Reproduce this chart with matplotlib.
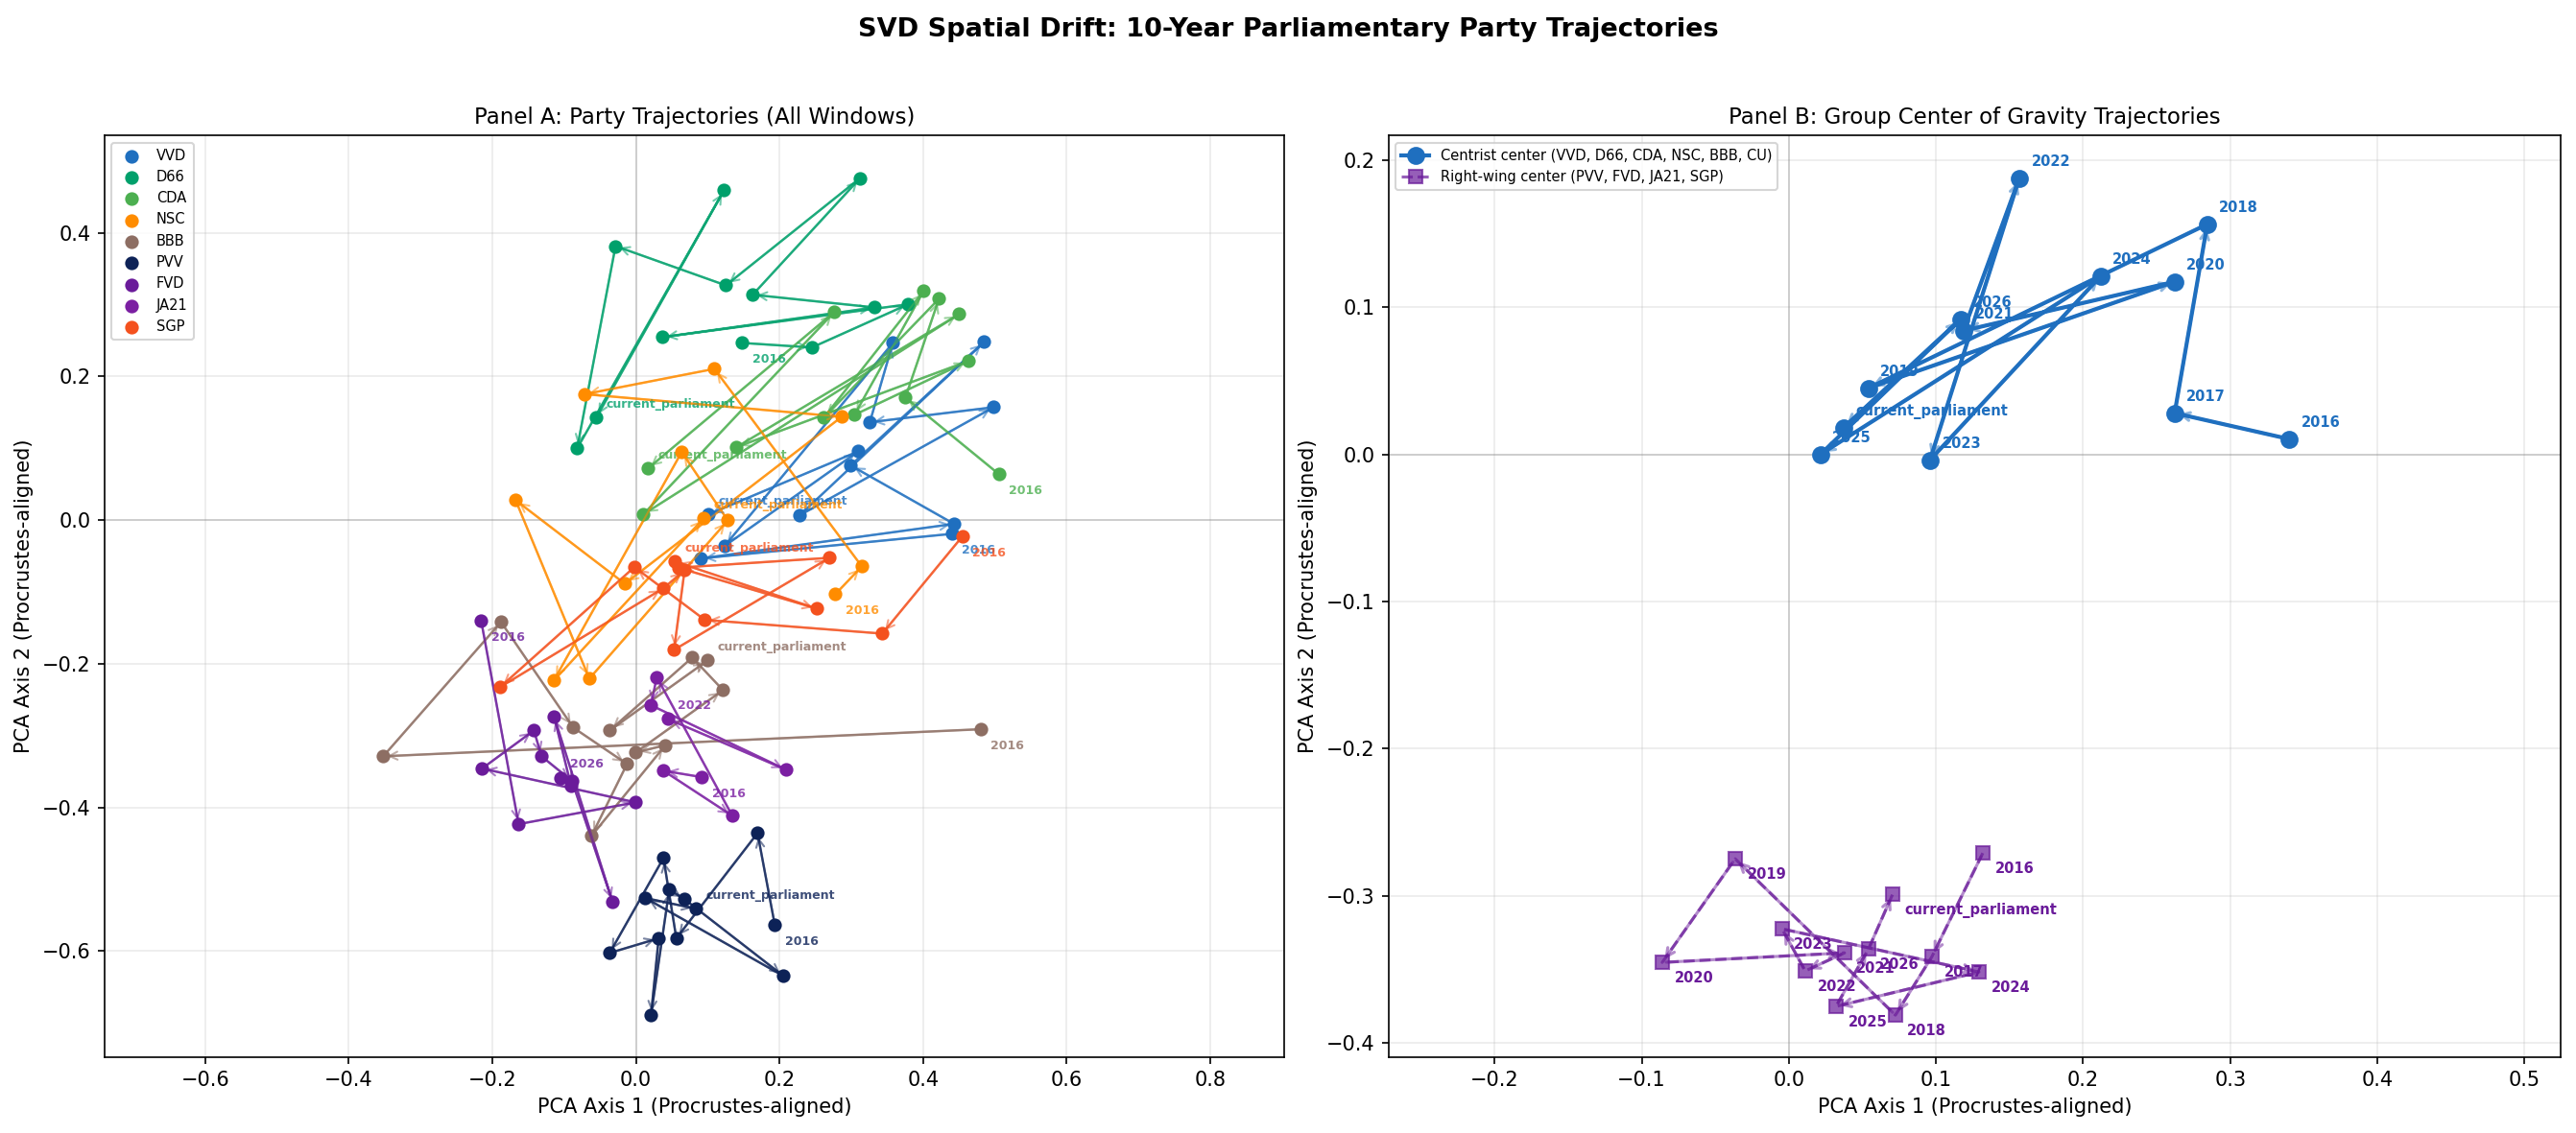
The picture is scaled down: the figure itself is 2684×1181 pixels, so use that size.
import matplotlib
matplotlib.use("Agg")
import matplotlib.pyplot as plt

# ---- Panel A: party trajectories (2016 .. 2026, then current parliament) ----
years = [str(y) for y in range(2016, 2027)] + ["current_parliament"]

vvd_x = [0.4405, 0.0906, 0.4432, 0.2992, 0.485, 0.2283, 0.4984, 0.3259, 0.358, 0.1237, 0.3099, 0.1013]
vvd_y = [-0.0191, -0.0534, -0.0053, 0.0761, 0.2479, 0.0067, 0.1571, 0.1362, 0.2466, -0.036, 0.0957, 0.008]

d66_x = [0.148, 0.2453, 0.3794, 0.0372, 0.3326, 0.1628, 0.3126, 0.1254, -0.0283, -0.0818, 0.1227, -0.0551]
d66_y = [0.2466, 0.2403, 0.3004, 0.2546, 0.296, 0.3137, 0.4762, 0.3267, 0.3814, 0.0997, 0.4589, 0.1425]

cda_x = [0.506, 0.3754, 0.4222, 0.2618, 0.4008, 0.3045, 0.4636, 0.1401, 0.4503, 0.0104, 0.2765, 0.0167]
cda_y = [0.0637, 0.1705, 0.308, 0.1425, 0.3187, 0.1465, 0.2216, 0.1015, 0.2866, 0.008, 0.2897, 0.0717]

nsc_x = [0.2778, 0.3148, 0.1094, -0.0711, 0.2868, -0.0154, -0.1674, -0.0648, 0.1281, 0.0639, -0.1143, 0.0947]
nsc_y = [-0.1032, -0.0645, 0.2105, 0.1753, 0.1438, -0.0885, 0.0276, -0.2207, -0.0004, 0.0948, -0.2234, 0.0027]

bbb_x = [0.4806, -0.3519, -0.1878, -0.0872, -0.0123, -0.0618, 0.0412, -0.0003, 0.1214, 0.0786, -0.0364, 0.1]
bbb_y = [-0.2911, -0.3288, -0.1419, -0.2888, -0.3395, -0.4397, -0.3133, -0.3235, -0.2367, -0.1913, -0.2928, -0.1953]

pvv_x = [0.1936, 0.1695, 0.0564, 0.0385, -0.0364, 0.0318, 0.0211, 0.0465, 0.0679, 0.2056, 0.0131, 0.084]
pvv_y = [-0.5638, -0.4357, -0.5821, -0.4704, -0.6025, -0.5821, -0.6893, -0.5144, -0.5278, -0.6346, -0.526, -0.5411]

fvd_x = [-0.2155, -0.1633, -0.0003, -0.2142, -0.142, -0.1313, -0.0889, -0.0323, -0.1139, -0.0902, -0.1054]
fvd_y = [-0.1398, -0.4232, -0.3929, -0.3458, -0.2928, -0.3289, -0.3632, -0.5318, -0.2733, -0.3703, -0.3587]

ja21_x = [0.092, 0.0385, 0.1344, 0.0291, 0.0211, 0.2096, 0.0444]
ja21_y = [-0.3578, -0.3489, -0.4116, -0.2185, -0.2577, -0.3476, -0.2768]

sgp_x = [0.4548, 0.3433, 0.096, -0.002, -0.1888, 0.0385, 0.0679, 0.0532, 0.2698, 0.0591, 0.252, 0.0545]
sgp_y = [-0.0227, -0.158, -0.1389, -0.0654, -0.2323, -0.0948, -0.0698, -0.1806, -0.0525, -0.0663, -0.1232, -0.0578]

party_names = ["VVD", "D66", "CDA", "NSC", "BBB", "PVV", "FVD", "JA21", "SGP"]
party_colors = ["#1f6fbf", "#00a06b", "#4caf50", "#ff8c00", "#8d6e63",
                "#0d2257", "#6a1b9a", "#7b1fa2", "#f4511e"]

# ---- Panel B: group centre of gravity ----
centrist_x = [0.3399, 0.2622, 0.2844, 0.0541, 0.2622, 0.1187, 0.1566, 0.0959, 0.212, 0.0215, 0.1168, 0.0372]
centrist_y = [0.0104, 0.028, 0.1564, 0.045, 0.1173, 0.084, 0.1876, -0.0039, 0.1212, 0.0, 0.0919, 0.0182]
right_x = [0.1318, 0.0972, 0.0724, -0.0365, -0.0861, 0.0378, 0.0111, -0.0046, 0.1292, 0.032, 0.0541, 0.0705]
right_y = [-0.271, -0.3414, -0.3811, -0.2749, -0.3453, -0.3388, -0.3511, -0.3225, -0.3518, -0.3752, -0.3362, -0.299]


def arrows(ax, xs, ys, color, alpha=0.5, lw=1.0):
    for i in range(len(xs) - 1):
        ax.annotate("", xy=(xs[i + 1], ys[i + 1]), xytext=(xs[i], ys[i]),
                    arrowprops=dict(arrowstyle="->", color=color, alpha=alpha, lw=lw))


fig = plt.figure(figsize=(2684 / 150, 1181 / 150), dpi=150)
ax1 = fig.add_axes([0.0406, 0.0673, 0.4579, 0.8129])
ax2 = fig.add_axes([0.5391, 0.0673, 0.4549, 0.8129])

# Panel A
xs_all = [vvd_x, d66_x, cda_x, nsc_x, bbb_x, pvv_x, fvd_x, ja21_x, sgp_x]
ys_all = [vvd_y, d66_y, cda_y, nsc_y, bbb_y, pvv_y, fvd_y, ja21_y, sgp_y]
for name, c, xs, ys in zip(party_names, party_colors, xs_all, ys_all):
    ax1.plot(xs, ys, "-", color=c, lw=1.2, alpha=0.75, zorder=2)
    arrows(ax1, xs, ys, c, alpha=0.55, lw=1.0)
    ax1.scatter(xs, ys, color=c, s=34, zorder=3, label=name)
    lab = years[:len(xs)]
    ax1.annotate(lab[0], (xs[0], ys[0]), xytext=(5, -10), textcoords="offset points",
                 fontsize=6, fontweight="bold", color=c, alpha=0.8)
    ax1.annotate(lab[-1], (xs[-1], ys[-1]), xytext=(5, 5), textcoords="offset points",
                 fontsize=6, fontweight="bold", color=c, alpha=0.8)

ax1.axhline(0, color="gray", lw=0.8, alpha=0.35)
ax1.axvline(0, color="gray", lw=0.8, alpha=0.35)
ax1.grid(True, alpha=0.25)
ax1.set_xlim(-0.740, 0.903)
ax1.set_ylim(-0.747, 0.535)
ax1.set_xlabel("PCA Axis 1 (Procrustes-aligned)")
ax1.set_ylabel("PCA Axis 2 (Procrustes-aligned)")
ax1.set_title("Panel A: Party Trajectories (All Windows)", fontsize=11)
ax1.legend(loc="upper left", fontsize=7)

# Panel B
cen_c = "#1f6fbf"
rw_c = "#6a1b9a"
ax2.plot(centrist_x, centrist_y, "-o", color=cen_c, lw=2, ms=8, zorder=3,
         label="Centrist center (VVD, D66, CDA, NSC, BBB, CU)")
arrows(ax2, centrist_x, centrist_y, cen_c, alpha=0.5, lw=1.5)
ax2.plot(right_x, right_y, "--s", color=rw_c, lw=1.5, ms=7, alpha=0.7, zorder=3,
         label="Right-wing center (PVV, FVD, JA21, SGP)")
arrows(ax2, right_x, right_y, rw_c, alpha=0.5, lw=1.5)
for i, yr in enumerate(years):
    ax2.annotate(yr, (centrist_x[i], centrist_y[i]), xytext=(6, 6), textcoords="offset points",
                 fontsize=7, fontweight="bold", color=cen_c)
    ax2.annotate(yr, (right_x[i], right_y[i]), xytext=(6, -10), textcoords="offset points",
                 fontsize=7, fontweight="bold", color=rw_c)

ax2.axhline(0, color="gray", lw=0.8, alpha=0.35)
ax2.axvline(0, color="gray", lw=0.8, alpha=0.35)
ax2.grid(True, alpha=0.25)
ax2.set_xlim(-0.272, 0.5245)
ax2.set_ylim(-0.4094, 0.2165)
ax2.set_xlabel("PCA Axis 1 (Procrustes-aligned)")
ax2.set_ylabel("PCA Axis 2 (Procrustes-aligned)")
ax2.set_title("Panel B: Group Center of Gravity Trajectories", fontsize=11)
ax2.legend(loc="upper left", fontsize=7)

fig.suptitle("SVD Spatial Drift: 10-Year Parliamentary Party Trajectories",
             fontsize=13, fontweight="bold", y=0.985)
fig.savefig("out.png", dpi=150)
